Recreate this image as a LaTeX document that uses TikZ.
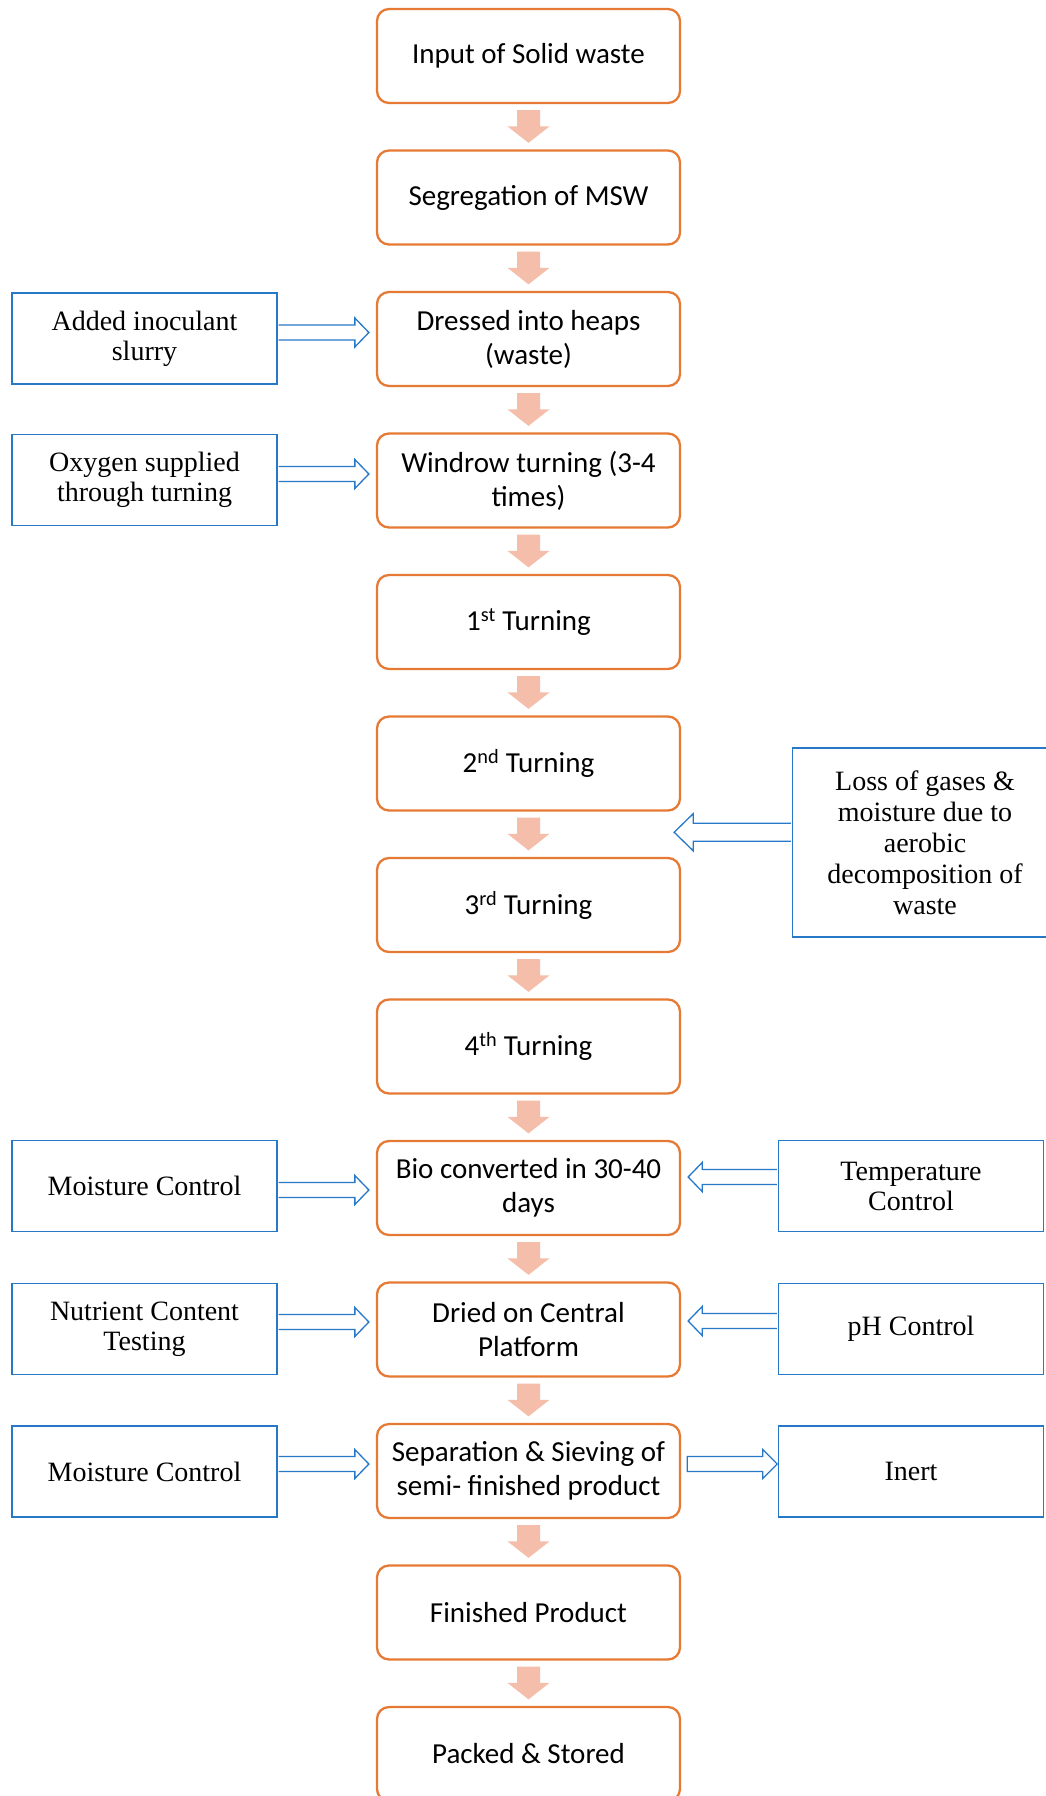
\documentclass[tikz,border=0pt]{standalone}
\usepackage{fontspec}
\setmainfont{Liberation Serif}
\newfontfamily\carlitofont{Carlito}
\usetikzlibrary{calc}
\definecolor{orng}{RGB}{230,122,52}
\definecolor{salm}{RGB}{245,190,170}
\definecolor{blu}{RGB}{40,120,200}
\tikzset{
  mainbox/.style={draw=orng, line width=2.3pt, rounded corners=12pt, fill=white,
    minimum width=303pt, minimum height=94pt, inner sep=0pt, align=center,
    font=\carlitofont\fontsize{29}{34}\selectfont},
  sidebox/.style={draw=blu, line width=1.6pt, fill=white,
    minimum width=265pt, minimum height=91pt, inner sep=0pt, align=center,
    font=\fontsize{28}{30}\selectfont},
  darrow/.style={fill=salm},
  sarrow/.style={draw=blu, line width=1.3pt, fill=white, line join=miter}
}
\newcommand\myarrR[3]{% from side node #1 (left) to main node #2, offset #3
  \filldraw[sarrow] ($(#1.east |- #2.west)+(0.8,#3-7.5)$) -- ($(#2.west)+(-21,#3-7.5)$) -- ($(#2.west)+(-21,#3-14.5)$) -- ($(#2.west)+(-7,#3)$) -- ($(#2.west)+(-21,#3+14.5)$) -- ($(#2.west)+(-21,#3+7.5)$) -- ($(#1.east |- #2.west)+(0.8,#3+7.5)$);}
\newcommand\myarrL[3]{% from side node #1 (right) to main node #2, offset #3
  \filldraw[sarrow] ($(#1.west |- #2.east)+(-0.8,#3-7.5)$) -- ($(#2.east)+(21,#3-7.5)$) -- ($(#2.east)+(21,#3-14.5)$) -- ($(#2.east)+(7,#3)$) -- ($(#2.east)+(21,#3+14.5)$) -- ($(#2.east)+(21,#3+7.5)$) -- ($(#1.west |- #2.east)+(-0.8,#3+7.5)$);}
\newcommand\myarrOut[3]{% from main node #1 to right side node #2, offset #3
  \filldraw[sarrow] ($(#1.east)+(6,#3-7.5)$) -- ($(#2.west |- #1.east)+(-15,#3-7.5)$) -- ($(#2.west |- #1.east)+(-15,#3-14.5)$) -- ($(#2.west |- #1.east)+(-0.5,#3)$) -- ($(#2.west |- #1.east)+(-15,#3+14.5)$) -- ($(#2.west |- #1.east)+(-15,#3+7.5)$) -- ($(#1.east)+(6,#3+7.5)$) -- cycle;}
\begin{document}
\begin{tikzpicture}[x=1pt,y=-1pt]
\fill[white] (0,0) rectangle (1046,1796);
\useasboundingbox (0,0) rectangle (1046,1796);

% main column
\node[mainbox] (m0)  at (528.5,56)    {Input of Solid waste};
\node[mainbox] (m1)  at (528.5,197.5) {Segregation of MSW};
\node[mainbox] (m2)  at (528.5,339)   {Dressed into heaps\\(waste)};
\node[mainbox] (m3)  at (528.5,480.5) {Windrow turning (3-4\\times)};
\node[mainbox] (m4)  at (528.5,622)   {1\textsuperscript{st} Turning};
\node[mainbox] (m5)  at (528.5,763.5) {2\textsuperscript{nd} Turning};
\node[mainbox] (m6)  at (528.5,905)   {3\textsuperscript{rd} Turning};
\node[mainbox] (m7)  at (528.5,1046.5){4\textsuperscript{th} Turning};
\node[mainbox] (m8)  at (528.5,1188)  {Bio converted in 30-40\\days};
\node[mainbox] (m9)  at (528.5,1329.5){Dried on Central\\Platform};
\node[mainbox] (m10) at (528.5,1471)  {Separation \& Sieving of\\semi- finished product};
\node[mainbox] (m11) at (528.5,1612.5){Finished Product};
\node[mainbox] (m12) at (528.5,1754)  {Packed \& Stored};

% down arrows
\foreach \i [evaluate=\i as \j using int(\i+1)] in {0,...,11}{
  \fill[darrow] ($(m\i.south)+(-11.5,6)$) -- ($(m\i.south)+(11.5,6)$)
    -- ($(m\j.north)+(11.5,-23)$) -- ($(m\j.north)+(21,-23)$)
    -- ($(m\j.north)+(0,-6.5)$) -- ($(m\j.north)+(-21,-23)$)
    -- ($(m\j.north)+(-11.5,-23)$) -- cycle;
}

% left side boxes
\node[sidebox] (l2)  at (144.5,338.5) {Added inoculant\\slurry};
\node[sidebox] (l3)  at (144.5,480)   {Oxygen supplied\\through turning};
\node[sidebox] (l8)  at (144.5,1186)  {Moisture Control};
\node[sidebox] (l9)  at (144.5,1329)  {Nutrient Content\\Testing};
\node[sidebox] (l10) at (144.5,1471.5){Moisture Control};

% right side boxes
\node[sidebox] (r8)  at (911,1186)   {Temperature\\Control};
\node[sidebox] (r9)  at (911,1329)   {pH Control};
\node[sidebox] (r10) at (911,1471.5) {Inert};
\node[sidebox, minimum height=189pt, font=\fontsize{28}{31}\selectfont] (loss) at (925,842.5)
  {Loss of gases \&\\moisture due to\\aerobic\\decomposition of\\waste};

% side arrows
\myarrR{l2}{m2}{-6.5}
\myarrR{l3}{m3}{-6.5}
\myarrR{l8}{m8}{2}
\myarrR{l9}{m9}{-7.5}
\myarrR{l10}{m10}{-7}
\myarrL{r8}{m8}{-11}
\myarrL{r9}{m9}{-8.5}
\myarrOut{m10}{r10}{-7}

% loss arrow
\coordinate (lm) at ($(m5.south east)!0.5!(m6.north east)+(0,-2)$);
\filldraw[sarrow] ($(loss.west |- lm)+(-0.8,-9)$) -- ($(lm)+(12,-9)$) -- ($(lm)+(12,-18.5)$)
  -- ($(lm)+(-7,0)$) -- ($(lm)+(12,18.5)$) -- ($(lm)+(12,9)$) -- ($(loss.west |- lm)+(-0.8,9)$);
\end{tikzpicture}
\end{document}
